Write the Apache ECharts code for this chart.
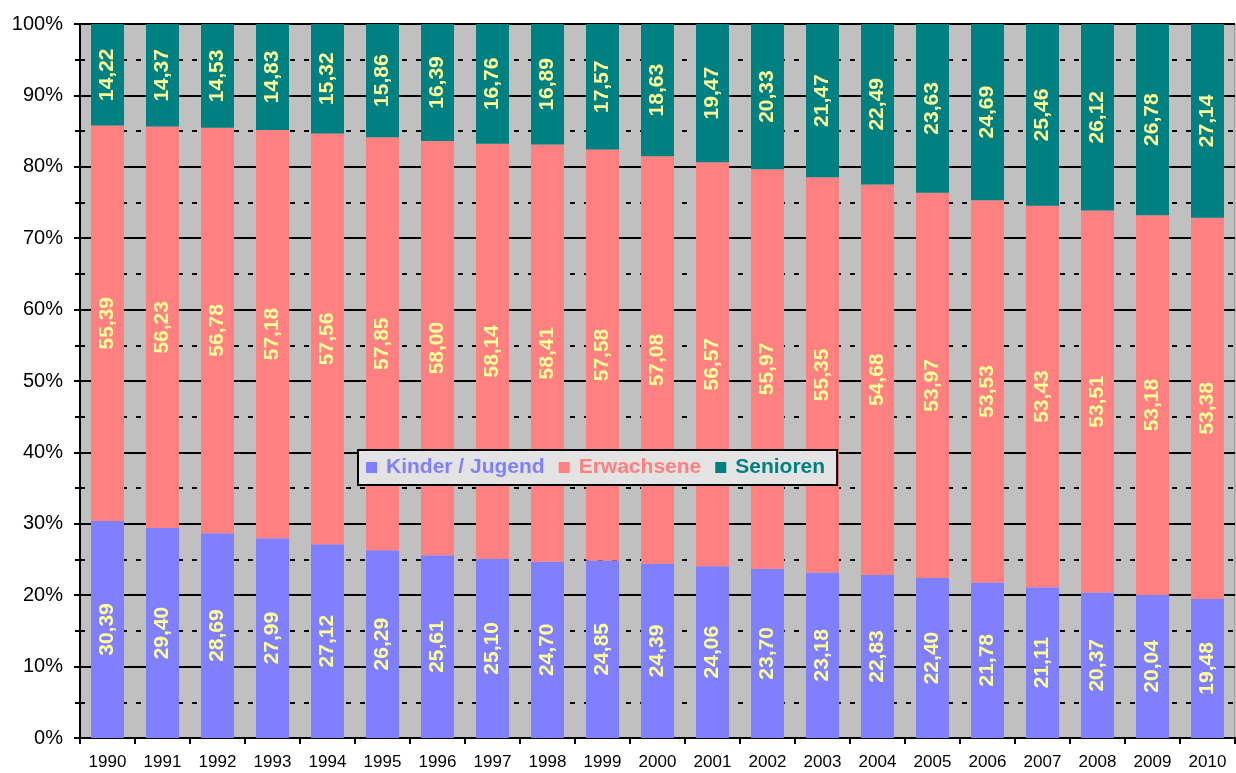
<!DOCTYPE html>
<html>
<head>
<meta charset="utf-8">
<script src="https://cdn.jsdelivr.net/npm/echarts@6/dist/echarts.min.js"></script>
<style>
  html, body { margin: 0; padding: 0; background: #fff; }
  #chart { width: 1236px; height: 773px; }
</style>
</head>
<body>
<div id="chart"></div>
<script>
const years = ['1990', '1991', '1992', '1993', '1994', '1995', '1996', '1997', '1998', '1999', '2000',
  '2001', '2002', '2003', '2004', '2005', '2006', '2007', '2008', '2009', '2010']
const kinder = [30.39, 29.40, 28.69, 27.99, 27.12, 26.29, 25.61, 25.10, 24.70, 24.85, 24.39,
  24.06, 23.70, 23.18, 22.83, 22.40, 21.78, 21.11, 20.37, 20.04, 19.48]
const erwachsene = [55.39, 56.23, 56.78, 57.18, 57.56, 57.85, 58.00, 58.14, 58.41, 57.58, 57.08,
  56.57, 55.97, 55.35, 54.68, 53.97, 53.53, 53.43, 53.51, 53.18, 53.38]
const senioren = [14.22, 14.37, 14.53, 14.83, 15.32, 15.86, 16.39, 16.76, 16.89, 17.57, 18.63,
  19.47, 20.33, 21.47, 22.49, 23.63, 24.69, 25.46, 26.12, 26.78, 27.14]

const font = 'Arial, "Liberation Sans", sans-serif'

const makeSeries = (name, data, color) => ({
  name: name,
  type: 'bar',
  stack: 'total',
  data: data,
  barWidth: '60%',
  itemStyle: { color: color },
  label: {
    show: true,
    position: 'inside',
    rotate: 90,
    color: '#FFFF99',
    fontFamily: font,
    fontWeight: 'bold',
    fontSize: 21,
    formatter: (p) => p.value.toFixed(2).replace('.', ','),
  },
})

const myChart = echarts.init(document.getElementById('chart'))
myChart.setOption({
  animation: false,
  grid: {
    left: 80,
    right: 1,
    top: 24,
    bottom: 35,
    show: true,
    backgroundColor: '#C0C0C0',
    borderColor: '#808080',
    borderWidth: 1,
  },
  legend: {
    left: 358,
    top: 450,
    padding: [7, 12, 7, 8],
    itemGap: 14,
    itemWidth: 11,
    itemHeight: 11,
    icon: 'rect',
    backgroundColor: '#E3E3E3',
    borderColor: '#000',
    borderWidth: 2,
    borderRadius: 0,
    textStyle: { fontFamily: font, fontWeight: 'bold', fontSize: 21, padding: [0, 0, 0, 4] },
    data: [
      { name: 'Kinder / Jugend', textStyle: { color: '#8080FF' } },
      { name: 'Erwachsene', textStyle: { color: '#FF8080' } },
      { name: 'Senioren', textStyle: { color: '#008080' } },
    ],
  },
  xAxis: {
    type: 'category',
    data: years,
    axisLine: { lineStyle: { color: '#000', width: 2 } },
    axisTick: { show: true, alignWithLabel: false, length: 6, lineStyle: { color: '#000', width: 2 } },
    axisLabel: { color: '#000', fontFamily: font, fontSize: 17, margin: 16 },
  },
  yAxis: {
    type: 'value',
    min: 0,
    max: 100,
    interval: 10,
    axisLine: { show: true, lineStyle: { color: '#000', width: 2 } },
    axisTick: { show: true, length: 6, lineStyle: { color: '#000', width: 2 } },
    minorTick: { show: true, splitNumber: 2, length: 5, lineStyle: { color: '#000', width: 2 } },
    axisLabel: { color: '#000', fontFamily: font, fontSize: 20, margin: 17, formatter: '{value}%' },
    splitLine: { show: true, lineStyle: { color: '#000', width: 2 } },
    minorSplitLine: { show: true, lineStyle: { color: '#000', width: 2, type: [5, 9] } },
  },
  series: [
    makeSeries('Kinder / Jugend', kinder, '#8080FF'),
    makeSeries('Erwachsene', erwachsene, '#FF8080'),
    makeSeries('Senioren', senioren, '#008080'),
  ],
})
</script>
</body>
</html>
